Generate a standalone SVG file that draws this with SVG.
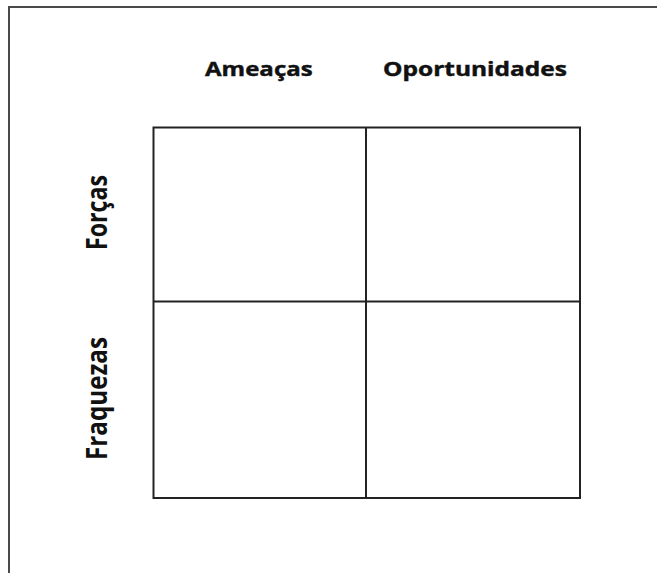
<svg xmlns="http://www.w3.org/2000/svg" width="657" height="573" viewBox="0 0 657 573">
<style>
.lbl{font-family:"Open Sans","Liberation Sans",sans-serif;font-weight:bold;fill:#111}
.h{stroke:#111;stroke-width:0.5}
.grid{fill:none;stroke:#222;stroke-width:2}
</style>
<rect x="0" y="0" width="657" height="573" fill="#fff"/>
<g id="frame"><path d="M9 573 V7 H657" fill="none" stroke="#4a4a4a" stroke-width="2"/></g>
<g id="matrix">
<rect class="grid" x="153.5" y="127.5" width="426.5" height="370.5"/>
</g>
<g id="connectors">
<line class="grid" x1="366" y1="127.5" x2="366" y2="498"/>
<line class="grid" x1="153.5" y1="301.5" x2="580" y2="301.5"/>
</g>
<g id="ameacas"><text class="lbl h" transform="translate(205,75.5) scale(1.045,0.87)" x="0" y="0" font-size="23">Ameaças</text></g>
<g id="oportunidades"><text class="lbl h" transform="translate(383,75.5) scale(1.065,0.87)" x="0" y="0" font-size="23">Oportunidades</text></g>
<g id="forcas"><text class="lbl" transform="translate(107,250) scale(1.27,1) rotate(-90)" x="0" y="0" font-size="22" textLength="75" lengthAdjust="spacingAndGlyphs">Forças</text></g>
<g id="fraquezas"><text class="lbl" transform="translate(107,460) scale(1.27,1) rotate(-90)" x="0" y="0" font-size="22" textLength="123" lengthAdjust="spacingAndGlyphs">Fraquezas</text></g>
</svg>
